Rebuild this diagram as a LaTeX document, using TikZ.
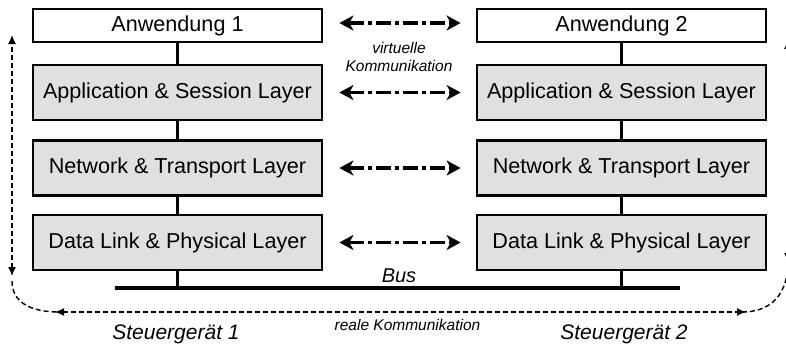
\documentclass[tikz,border=0pt]{standalone}
\usepackage{fontspec}
\setmainfont{Liberation Sans}
\usetikzlibrary{arrows.meta}
\definecolor{layerfill}{RGB}{224,224,224}
\begin{document}
\begin{tikzpicture}[x=1pt,y=-1pt,
  box/.style={draw=black, line width=2.8pt, minimum width=289pt, inner sep=0pt,
    font=\fontsize{21.6}{25}\selectfont},
  appbox/.style={box, fill=white, minimum height=33pt},
  layer/.style={box, fill=layerfill, minimum height=55pt},
  link/.style={line width=2.8pt},
  busline/.style={line width=3.8pt},
  virt/.style={line width=3.4pt, dash pattern=on 15pt off 4pt on 4pt off 4pt,
    {Stealth[length=14pt,width=15pt,inset=4pt]}-{Stealth[length=14pt,width=15pt,inset=4pt]}},
  real/.style={line width=1.4pt, dash pattern=on 5pt off 3pt},
  realtips/.style={{Latex[length=9pt,width=8pt]}-{Latex[length=9pt,width=8pt]}},
  note/.style={font=\fontsize{15.5}{18}\selectfont\itshape, align=center, inner sep=0pt},
  ecu/.style={font=\fontsize{21}{25}\selectfont\itshape, inner sep=0pt}]

\useasboundingbox (0,0) rectangle (786,346);
\clip (0,0) rectangle (786,346);

% ECU 1 stack
\node[appbox] (a1) at (177.5,25.5) {Anwendung 1};
\node[layer]  (s1) at (177.5,92.5) {Application \& Session Layer};
\node[layer]  (n1) at (177.5,168)  {Network \& Transport Layer};
\node[layer]  (d1) at (177.5,242.5) {Data Link \& Physical Layer};

% ECU 2 stack
\node[appbox] (a2) at (621.5,25.5) {Anwendung 2};
\node[layer]  (s2) at (621.5,92.5) {Application \& Session Layer};
\node[layer]  (n2) at (621.5,168)  {Network \& Transport Layer};
\node[layer]  (d2) at (621.5,242.5) {Data Link \& Physical Layer};

% vertical links inside each stack
\draw[link] (a1) -- (s1);
\draw[link] (s1) -- (n1);
\draw[link] (n1) -- (d1);
\draw[link] (a2) -- (s2);
\draw[link] (s2) -- (n2);
\draw[link] (n2) -- (d2);

% bus
\coordinate (busL) at (115,288);
\coordinate (busR) at (680,288);
\draw[busline] (busL) -- (busR);
\draw[link] (d1.south) -- (d1.south |- busL);
\draw[link] (d2.south) -- (d2.south |- busL);
\node[ecu, font=\fontsize{20}{24}\selectfont\itshape, anchor=base] (bus) at (399,282) {Bus};

% virtual (peer-to-peer) communication
\draw[virt, shorten <=16pt, shorten >=15pt] ([yshift=2.5pt]a1.east) -- ([yshift=2.5pt]a2.west);
\draw[virt, shorten <=16pt, shorten >=15pt] (s1.east) -- (s2.west);
\draw[virt, shorten <=16pt, shorten >=15pt] (n1.east) -- (n2.west);
\draw[virt, shorten <=16pt, shorten >=15pt] (d1.east) -- (d2.west);
\node[note, anchor=base] (vk) at (399,71.5) {virtuelle\\Kommunikation};

% real communication path
\coordinate (lTop) at (12,35);
\coordinate (lBot) at (12,276);
\coordinate (lCurve) at (12,281);
\coordinate (hL) at (55,312);
\coordinate (hR) at (746,312);
\coordinate (rTop) at (788,40);
\coordinate (rBot) at (788,262);
\coordinate (rCurve) at (788,266);
\draw[real, realtips] (lBot) -- (lTop);
\draw[real] (lCurve) .. controls (12,302) and (30,312) .. ([xshift=4pt]hL);
\draw[real, realtips] (hL) -- (hR);
\draw[real] ([xshift=-4pt]hR) .. controls (768,312) and (786,298) .. (rCurve);
\draw[real, realtips] (rBot) -- (rTop);
\node[note, anchor=base] (rk) at (407.5,330) {reale Kommunikation};

% ECU labels
\node[ecu, anchor=base] (ecu1) at (176,339) {Steuergerät 1};
\node[ecu, anchor=base] (ecu2) at (624,339) {Steuergerät 2};
\end{tikzpicture}
\end{document}
